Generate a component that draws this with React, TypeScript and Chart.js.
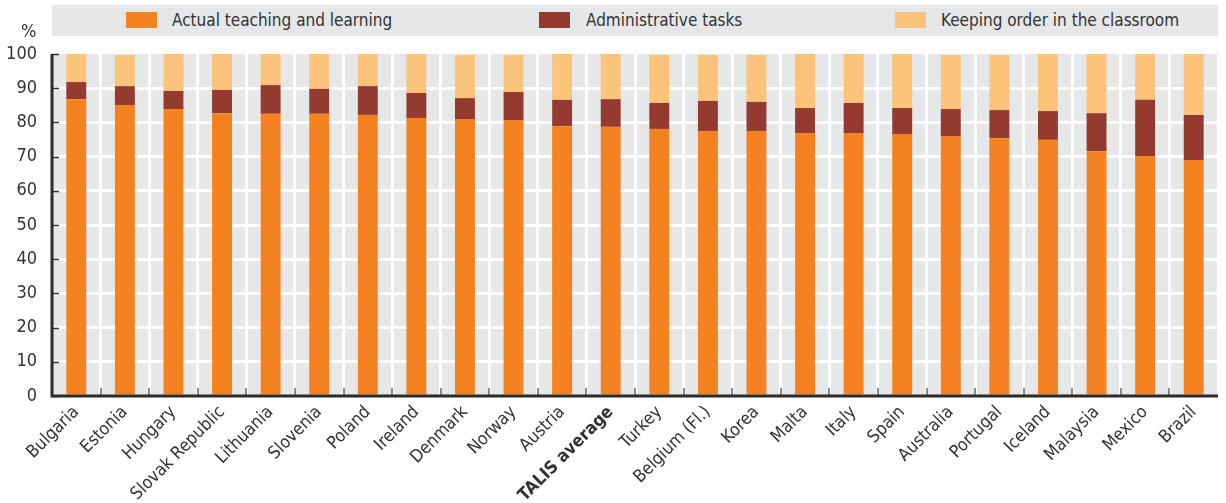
import React, { useEffect, useRef } from "react";
import { Chart, registerables } from "chart.js";
Chart.register(...registerables);

const categories = [
  "Bulgaria", "Estonia", "Hungary", "Slovak Republic", "Lithuania", "Slovenia",
  "Poland", "Ireland", "Denmark", "Norway", "Austria", "TALIS average", "Turkey",
  "Belgium (Fl.)", "Korea", "Malta", "Italy", "Spain", "Australia", "Portugal",
  "Iceland", "Malaysia", "Mexico", "Brazil",
];
const teaching = [86.8, 85.1, 83.9, 82.7, 82.5, 82.5, 82.2, 81.3, 81.0, 80.7, 78.9, 78.7, 78.1, 77.5, 77.5, 76.9, 76.9, 76.6, 76.0, 75.4, 74.9, 71.6, 70.2, 69.0];
const admin = [5.0, 5.5, 5.3, 6.8, 8.4, 7.3, 8.4, 7.3, 6.1, 8.2, 7.7, 8.1, 7.6, 8.8, 8.5, 7.3, 8.8, 7.6, 7.9, 8.2, 8.4, 11.1, 16.4, 13.2];
const order = [8.2, 9.1, 10.8, 10.5, 9.1, 10.2, 9.4, 11.4, 12.6, 10.8, 13.4, 13.2, 14.0, 13.4, 13.7, 15.8, 14.3, 15.8, 15.8, 16.1, 16.7, 17.3, 13.4, 17.8];
const seriesNames = ["Actual teaching and learning", "Administrative tasks", "Keeping order in the classroom"];
const seriesColors = ["#f58220", "#953a2e", "#fcc47a"];
const yTicks = [0, 10, 20, 30, 40, 50, 60, 70, 80, 90, 100];

const FONT = '"Liberation Sans Narrow", "Arial Narrow", "DejaVu Sans Condensed", sans-serif';
const TEXT = "#333333";

const decorPlugin = {
  id: "decor",
  beforeDraw(chart: any) {
    const { ctx, chartArea: a } = chart;
    ctx.save();
    ctx.fillStyle = "#e6e7e8";
    ctx.fillRect(a.left, a.top, a.right - a.left, a.bottom - a.top);
    ctx.restore();
  },
  afterDraw(chart: any) {
    const { ctx, chartArea: a } = chart;
    const x = chart.scales.x;
    const y = chart.scales.y;
    ctx.save();
    ctx.strokeStyle = "#8a8a8a";
    ctx.lineWidth = 2;
    const n = categories.length;
    for (let i = 1; i < n; i++) {
      const px = Math.round((x.getPixelForValue(i - 1) + x.getPixelForValue(i)) / 2);
      ctx.beginPath();
      ctx.moveTo(px, a.bottom);
      ctx.lineTo(px, a.bottom - 8);
      ctx.stroke();
    }
    ctx.strokeStyle = "#333333";
    ctx.lineWidth = 1.5;
    yTicks.forEach((v) => {
      const py = Math.round(y.getPixelForValue(v)) + 0.5;
      ctx.beginPath();
      ctx.moveTo(a.left, py);
      ctx.lineTo(a.left + 7, py);
      ctx.stroke();
    });
    ctx.strokeStyle = "#2b2b2b";
    ctx.lineWidth = 3;
    ctx.beginPath();
    ctx.moveTo(a.left, a.top);
    ctx.lineTo(a.left, a.bottom);
    ctx.lineTo(a.right, a.bottom);
    ctx.stroke();
    ctx.restore();
  },
};

const legendPos = [
  { box: 126, text: 172 },
  { box: 539, text: 586 },
  { box: 895, text: 941 },
];

export default function App() {
  const ref = useRef<HTMLCanvasElement | null>(null);

  useEffect(() => {
    document.body.style.margin = "0";
    const canvas = ref.current;
    if (!canvas) return;
    const chart = new Chart(canvas, {
      type: "bar",
      data: {
        labels: categories,
        datasets: [teaching, admin, order].map((d, i) => ({
          label: seriesNames[i],
          data: d,
          backgroundColor: seriesColors[i],
          borderWidth: 0,
          categoryPercentage: 1,
          barPercentage: 0.41,
        })),
      },
      options: {
        responsive: false,
        animation: false,
        layout: { padding: { top: 54, right: 8, left: 0, bottom: 0 } },
        plugins: { legend: { display: false }, tooltip: { enabled: false } },
        scales: {
          x: {
            stacked: true,
            offset: true,
            grid: { color: "#ffffff", lineWidth: 3, drawTicks: false, offset: true },
            border: { display: false },
            ticks: {
              color: TEXT,
              maxRotation: 45,
              minRotation: 45,
              padding: 6,
              autoSkip: false,
              font: (c: any) => ({
                family: FONT,
                size: 17.5,
                weight: c.index === 11 ? "bold" : "normal",
              }),
            },
            afterFit: (s: any) => {
              s.height = 107;
            },
          },
          y: {
            stacked: true,
            min: 0,
            max: 100,
            grid: { color: (c: any) => (c.tick && c.tick.value === 100 ? "rgba(0,0,0,0)" : "#ffffff"), lineWidth: 3, drawTicks: false },
            border: { display: false },
            ticks: {
              stepSize: 10,
              color: TEXT,
              padding: 15,
              font: { family: FONT, size: 18 },
            },
            afterFit: (s: any) => {
              s.width = 52;
            },
          },
        },
      },
      plugins: [decorPlugin],
    });
    return () => chart.destroy();
  }, []);

  return (
    <div style={{ position: "relative", width: 1226, height: 503, fontFamily: FONT }}>
      <canvas ref={ref} width={1226} height={503} style={{ display: "block" }} />
      <div
        style={{
          position: "absolute",
          left: 52,
          top: 5,
          width: 1166,
          height: 31,
          background: "#e6e7e8",
        }}
      />
      {seriesNames.map((name, i) => (
        <React.Fragment key={name}>
          <span
            style={{
              position: "absolute",
              left: legendPos[i].box,
              top: 12,
              width: 31,
              height: 16,
              background: seriesColors[i],
            }}
          />
          <span
            style={{
              position: "absolute",
              left: legendPos[i].text,
              top: 9,
              fontSize: 17,
              lineHeight: "22px",
              color: TEXT,
              whiteSpace: "nowrap",
            }}
          >
            {name}
          </span>
        </React.Fragment>
      ))}
      <div style={{ position: "absolute", left: 21, top: 20, fontSize: 18, color: TEXT }}>%</div>
    </div>
  );
}
